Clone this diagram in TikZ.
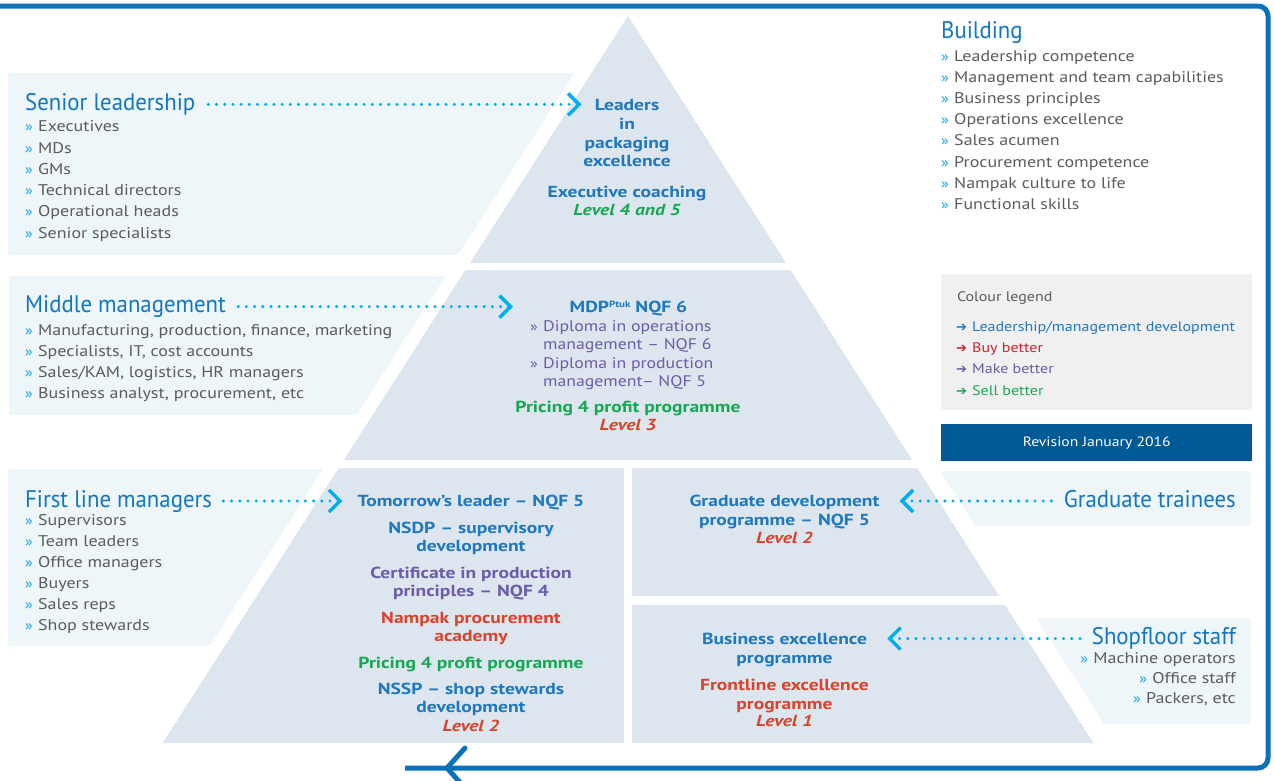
\documentclass[tikz,border=0pt]{standalone}
\usepackage{fontspec}
\setmainfont{PT Sans}[FakeStretch=1.16]
\newfontfamily\headfont{PT Sans}[FakeStretch=0.95]
\newfontfamily\progfont{PT Sans}[FakeStretch=1.22]
\newfontfamily\symfont{DejaVu Sans}
\usetikzlibrary{arrows.meta}

\definecolor{framebl}{HTML}{0B72B9}
\definecolor{headbl}{HTML}{1276BE}
\definecolor{bulcy}{HTML}{1BA6DF}
\definecolor{txtgr}{HTML}{5A5B5D}
\definecolor{pyrfill}{HTML}{DDE6EE}
\definecolor{panelfill}{HTML}{EEF6FA}
\definecolor{dotcy}{HTML}{00AEEF}
\definecolor{lmblue}{HTML}{1E78BE}
\definecolor{mkpurple}{HTML}{6A5CA8}
\definecolor{buyred}{HTML}{D8432C}
\definecolor{sellgreen}{HTML}{14A853}
\definecolor{legfill}{HTML}{F0F0F0}
\definecolor{revfill}{HTML}{005A96}
\definecolor{legred}{HTML}{CC2230}

% bullets and legend arrows
\newcommand{\bul}{\makebox[13pt][l]{\color{bulcy}\fontsize{14}{14}\selectfont »}}
\newcommand{\pbul}{\makebox[13pt][l]{\fontsize{14}{14}\selectfont »}}
\newcommand{\legarrow}[1]{\makebox[16pt][l]{\color{#1}\symfont\fontsize{13}{13}\selectfont ➔}}

\begin{document}
\begin{tikzpicture}[x=1pt,y=-1pt,
  panel/.style={fill=panelfill, rounded corners=2pt},
  pyr/.style={fill=pyrfill},
  head/.style={font=\headfont\fontsize{24}{28}\selectfont, text=headbl, inner sep=0pt},
  item/.style={font=\fontsize{15.5}{20}\selectfont, text=txtgr, inner sep=0pt},
  prog/.style={font=\progfont\bfseries\fontsize{16}{19}\selectfont, inner sep=0pt, anchor=base},
  lvl/.style={font=\progfont\bfseries\itshape\fontsize{16}{19}\selectfont, inner sep=0pt, anchor=base},
  dipl/.style={font=\fontsize{15.3}{19}\selectfont, text=mkpurple, inner sep=0pt, anchor=base west},
  legitem/.style={font=\fontsize{13.8}{18}\selectfont, inner sep=0pt, anchor=base west},
  tiplink/.style={draw=dotcy, line width=3.4pt, line cap=round, dash pattern=on 0pt off 8.2pt,
     {Straight Barb[length=11pt,width=22pt,line width=3.5pt]}-},
]
\useasboundingbox (0,0) rectangle (1275,780);

% outer frame with return arrow
\draw[framebl, line width=5pt, rounded corners=10pt] (-5,6) -- (1268,6) -- (1268,768) -- (405,768);
\draw[framebl, line width=5pt, line cap=round] (465,748) -- (447,768) -- (465,788);

% side panels
\fill[panel] (8,73) -- (574.5,73) -- (458,255) -- (8,255) -- cycle;
\fill[panel] (9,276) -- (445.6,276) -- (356.6,415) -- (9,415) -- cycle;
\fill[panel] (8,469) -- (323.1,469) -- (209.8,646) -- (8,646) -- cycle;
\fill[panel] (940.2,471) -- (1251,471) -- (1251,526) -- (975.4,526) -- cycle;
\fill[panel] (1036.3,618) -- (1251,618) -- (1251,724) -- (1104.1,724) -- cycle;

% pyramid
\fill[pyr] (628,16) -- (786.1,263) -- (469.9,263) -- cycle;
\fill[pyr] (465.4,270) -- (790.6,270) -- (912.2,460) -- (343.8,460) -- cycle;
\fill[pyr] (338.7,468) -- (624,468) -- (624,743) -- (162.7,743) -- cycle;
\fill[pyr] (632,468) -- (917.3,468) -- (999.2,596) -- (632,596) -- cycle;
\fill[pyr] (632,605) -- (1005,605) -- (1093.3,743) -- (632,743) -- cycle;

% legend
\fill[legfill] (941,274) rectangle (1252,410);
\node[legitem, text=txtgr] (legtitle) at (956.8,301.7) {Colour legend};
\node[legitem, text=lmblue] (leg1) at (956,331) {\legarrow{lmblue}Leadership/management development};
\node[legitem, text=legred] (leg2) at (956,352) {\legarrow{legred}Buy better};
\node[legitem, text=mkpurple] (leg3) at (956,373.7) {\legarrow{mkpurple}Make better};
\node[legitem, text=sellgreen] (leg4) at (956,395) {\legarrow{sellgreen}Sell better};
\node[fill=revfill, text=white, anchor=north west, minimum width=311pt, minimum height=37pt,
      inner sep=0pt, font=\fontsize{13.5}{17}\selectfont] (rev) at (941,424) {Revision January 2016};

% headings
\node[head, anchor=base west] (senior) at (25,110) {Senior leadership};
\node[head, anchor=base west] (middle) at (25,312.3) {Middle management};
\node[head, anchor=base west] (firstline) at (25,507) {First line managers};
\node[head, anchor=base west] (building) at (941,38.3) {Building};
\node[head, anchor=base east] (gradhead) at (1236,507.7) {Graduate trainees};
\node[head, anchor=base east] (shophead) at (1236,644.3) {Shopfloor staff};

% lists
\foreach \t [count=\i] in {Executives, MDs, GMs, Technical directors, Operational heads, Senior specialists}
  \node[item, anchor=base west] (sen\i) at (25,{131.7+(\i-1)*21.3}) {\bul\t};
\foreach \t [count=\i] in {{Manufacturing, production, finance, marketing}, {Specialists, IT, cost accounts},
    {Sales/KAM, logistics, HR managers}, {Business analyst, procurement, etc}}
  \node[item, anchor=base west] (mid\i) at (25,{335+(\i-1)*21.1}) {\bul\t};
\foreach \t [count=\i] in {Supervisors, Team leaders, Office managers, Buyers, Sales reps, Shop stewards}
  \node[item, anchor=base west] (fl\i) at (25,{525.5+(\i-1)*21}) {\bul\t};
\foreach \t [count=\i] in {Leadership competence, Management and team capabilities, Business principles,
    Operations excellence, Sales acumen, Procurement competence, Nampak culture to life, Functional skills}
  \node[item, anchor=base west] (bld\i) at (941,{61+(\i-1)*21.2}) {\bul\t};
\foreach \t [count=\i] in {Machine operators, Office staff, {Packers, etc}}
  \node[item, anchor=base east] (shop\i) at (1236,{663.5+(\i-1)*20}) {\bul\t};

% top tier
\node[prog, text=lmblue, text depth=0pt] (lead1) at (627,110) {Leaders};
\node[prog, text=lmblue] (lead2) at (627,129) {in};
\node[prog, text=lmblue] (lead3) at (627,148) {packaging};
\node[prog, text=lmblue] (lead4) at (627,166.7) {excellence};
\node[prog, text=lmblue] (coach) at (627,197.3) {Executive coaching};
\node[lvl, text=sellgreen] (lvl45) at (627,215) {Level 4 and 5};

% middle tier
\node[prog, text=lmblue, text depth=0pt] (mdp) at (628.5,312.3) {MDP\raisebox{5pt}{\fontsize{9}{9}\selectfont Ptuk} NQF 6};
\node[dipl] (dip1) at (530,331) {\pbul Diploma in operations};
\node[dipl] (dip1b) at (543,349.3) {management – NQF 6};
\node[dipl] (dip2) at (530,368) {\pbul Diploma in production};
\node[dipl] (dip2b) at (543,386.7) {management– NQF 5};
\node[prog, text=sellgreen] (p4pa) at (628,412.7) {Pricing 4 profit programme};
\node[lvl, text=buyred] (lvl3) at (628,430.7) {Level 3};

% lower left tier
\node[prog, text=lmblue, text depth=0pt] (tomorrow) at (471,506.7) {Tomorrow’s leader – NQF 5};
\node[prog, text=lmblue] (nsdp1) at (471,533.3) {NSDP – supervisory};
\node[prog, text=lmblue] (nsdp2) at (471,551.7) {development};
\node[prog, text=mkpurple] (cert1) at (471,578.3) {Certificate in production};
\node[prog, text=mkpurple] (cert2) at (471,596.7) {principles – NQF 4};
\node[prog, text=buyred] (nam1) at (471,623.3) {Nampak procurement};
\node[prog, text=buyred] (nam2) at (471,641.7) {academy};
\node[prog, text=sellgreen] (p4pb) at (471,668.3) {Pricing 4 profit programme};
\node[prog, text=lmblue] (nssp1) at (471,694.3) {NSSP – shop stewards};
\node[prog, text=lmblue] (nssp2) at (471,712.7) {development};
\node[lvl, text=buyred] (lvl2a) at (471,731) {Level 2};

% lower right tiers
\node[prog, text=lmblue, text depth=0pt] (grad1) at (784.5,506.7) {Graduate development};
\node[prog, text=lmblue] (grad2) at (784.5,525.7) {programme – NQF 5};
\node[lvl, text=buyred] (lvl2b) at (784.5,543.3) {Level 2};
\node[prog, text=lmblue, text depth=0pt] (bus1) at (784.5,644.3) {Business excellence};
\node[prog, text=lmblue] (bus2) at (784.5,663.3) {programme};
\node[prog, text=buyred] (front1) at (784.5,690) {Frontline excellence};
\node[prog, text=buyred] (front2) at (784.5,709) {programme};
\node[lvl, text=buyred] (lvl1) at (784.5,726.7) {Level 1};

% dotted links
\draw[tiplink, shorten <=13pt, shorten >=5pt] (lead1.west) -- (lead1.west -| senior.east);
\draw[tiplink, shorten <=17pt, shorten >=6pt] (mdp.west -| dip1.west) -- (mdp.west -| middle.east);
\draw[tiplink, shorten <=15pt, shorten >=5pt] (tomorrow.west) -- (tomorrow.west -| firstline.east);
\draw[tiplink, shorten <=20pt, shorten >=5pt] (grad1.east) -- (grad1.east -| gradhead.west);
\draw[tiplink, shorten <=20pt, shorten >=7pt] (bus1.east) -- (bus1.east -| shophead.west);
\end{tikzpicture}
\end{document}
